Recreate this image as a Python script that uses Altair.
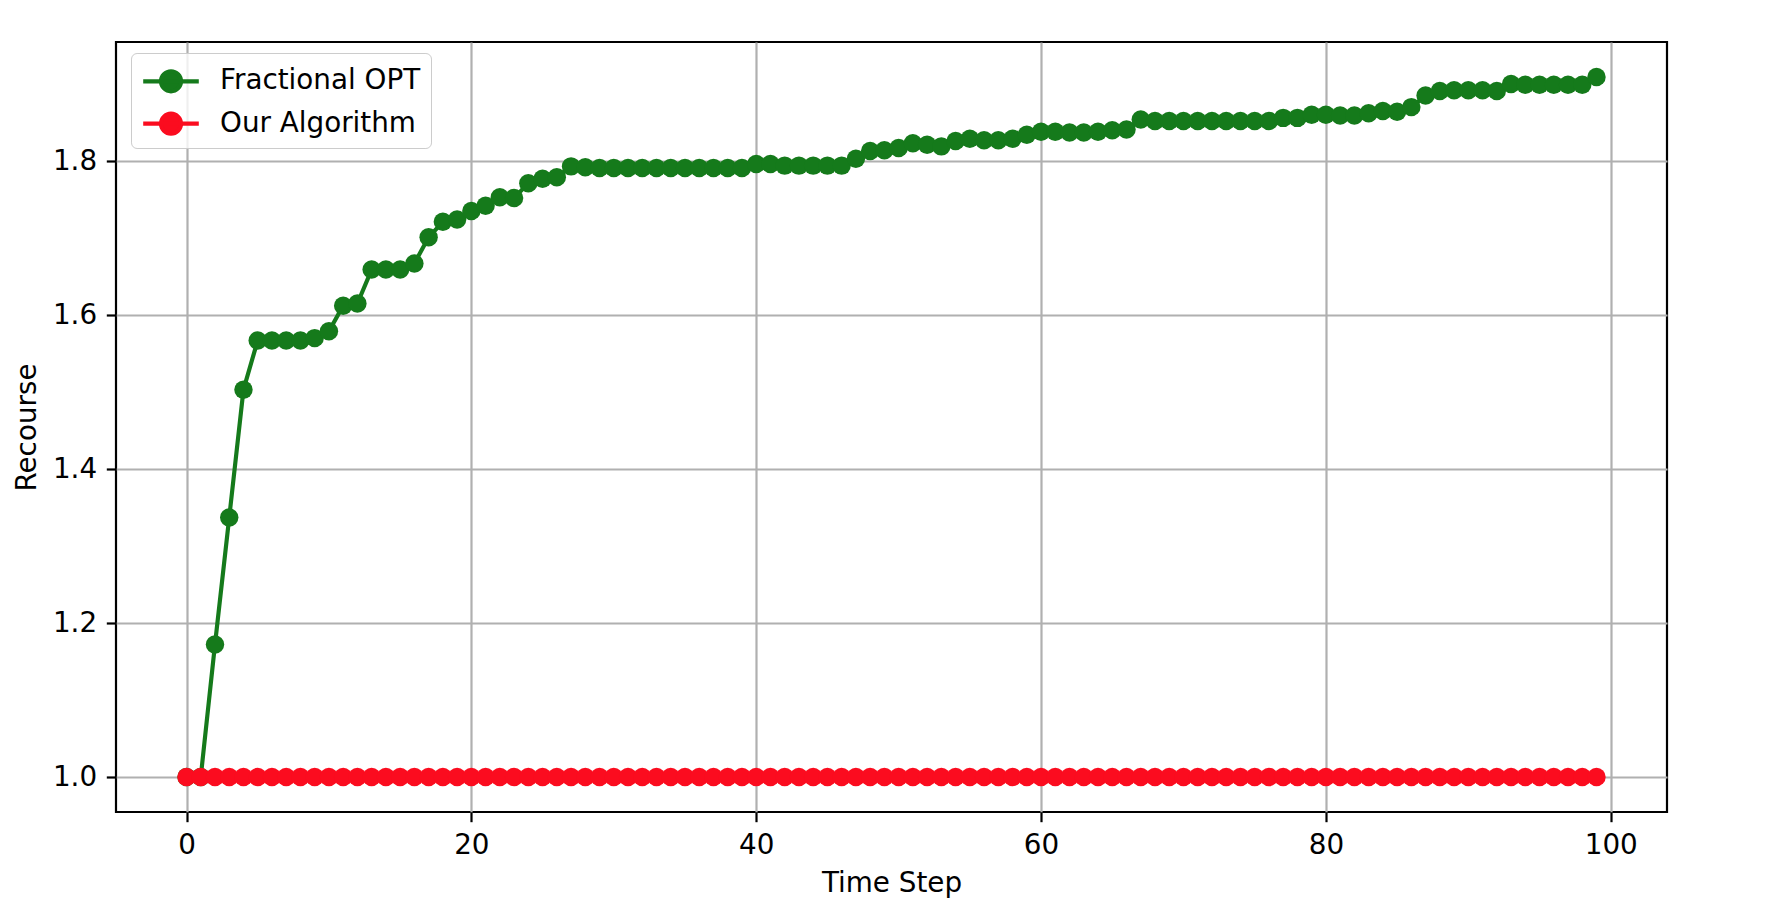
import altair as alt
import pandas as pd

steps = list(range(100))

fractional_opt = [
    1.000, 1.000, 1.172, 1.337, 1.503, 1.567, 1.567, 1.567, 1.567, 1.570,
    1.579, 1.612, 1.615, 1.659, 1.659, 1.659, 1.667, 1.701, 1.721, 1.724,
    1.735, 1.742, 1.753, 1.752, 1.771, 1.777, 1.779, 1.793, 1.792, 1.791,
    1.791, 1.791, 1.791, 1.791, 1.791, 1.791, 1.791, 1.791, 1.791, 1.791,
    1.796, 1.796, 1.794, 1.794, 1.794, 1.794, 1.794, 1.803, 1.813, 1.814,
    1.817, 1.823, 1.821, 1.819, 1.826, 1.829, 1.827, 1.827, 1.829, 1.834,
    1.838, 1.838, 1.837, 1.837, 1.838, 1.840, 1.841, 1.854, 1.852, 1.852,
    1.852, 1.852, 1.852, 1.852, 1.852, 1.852, 1.852, 1.856, 1.856, 1.860,
    1.860, 1.859, 1.859, 1.862, 1.865, 1.864, 1.870, 1.885, 1.891, 1.892,
    1.892, 1.892, 1.891, 1.900, 1.899, 1.899, 1.899, 1.899, 1.899, 1.909,
]
our_algorithm = [1.0] * 100

series_names = ["Fractional OPT", "Our Algorithm"]
series_colors = ["#157a1b", "#fb0c1f"]
x_ticks = [0, 20, 40, 60, 80, 100]
y_ticks = [1.0, 1.2, 1.4, 1.6, 1.8]

rows = []
for t, v in zip(steps, fractional_opt):
    rows.append({"t": t, "v": v, "s": series_names[0], "o": 0})
for t, v in zip(steps, our_algorithm):
    rows.append({"t": t, "v": v, "s": series_names[1], "o": 1})
df = pd.DataFrame(rows)

FONT = "DejaVu Sans"
FS = 27.8
LW = 4.17

color_scale = alt.Scale(domain=series_names, range=series_colors)
legend_path = "M-1,0L1,0M0.36,0A0.36,0.36,0,1,1,-0.36,0A0.36,0.36,0,1,1,0.36,0Z"

x_enc = alt.X(
    "t:Q",
    scale=alt.Scale(domain=[-4.95, 103.95], nice=False, zero=False),
    axis=alt.Axis(values=x_ticks, title="Time Step", format="d"),
)
y_enc = alt.Y(
    "v:Q",
    scale=alt.Scale(domain=[0.95455, 1.95455], nice=False, zero=False),
    axis=alt.Axis(values=y_ticks, title="Recourse", format=".1f"),
)

legend = alt.Legend(
    title=" ",
    titleFontSize=4.6,
    titlePadding=0,
    titleColor="rgba(0,0,0,0)",
    orient="none",
    legendX=15,
    legendY=11,
    symbolType=legend_path,
    symbolSize=3091,
    symbolStrokeWidth=LW,
    clipHeight=27.4,
    rowPadding=13.4,
    labelOffset=19,
    labelLimit=0,
    padding=10,
    fillColor="rgba(255,255,255,0.8)",
    strokeColor="#cccccc",
    cornerRadius=5.6,
    labelFont=FONT,
    labelFontSize=FS,
    labelColor="#000000",
)

lines = alt.Chart(df).mark_line(strokeWidth=LW).encode(
    x=x_enc,
    y=y_enc,
    color=alt.Color("s:N", scale=color_scale, legend=legend),
    order="t:Q",
)

points = alt.Chart(df).mark_point(filled=True, size=340, opacity=1, strokeWidth=0).encode(
    x=x_enc,
    y=y_enc,
    color=alt.Color("s:N", scale=color_scale, legend=legend),
    order="o:Q",
)

chart = (
    alt.layer(lines, points)
    .properties(
        width=1551,
        height=770,
        autosize=alt.AutoSizeParams(type="none"),
        padding={"left": 108, "top": 34, "right": 100, "bottom": 92},
    )
    .configure_view(stroke="#000000", strokeWidth=2.2)
    .configure_axis(
        domain=False,
        grid=True,
        gridColor="#b0b0b0",
        gridWidth=2.2,
        tickColor="#000000",
        tickWidth=2.2,
        tickSize=9.7,
        labelPadding=9.7,
        labelFont=FONT,
        labelFontSize=FS,
        labelColor="#000000",
        titleFont=FONT,
        titleFontSize=FS,
        titleFontWeight="normal",
        titleColor="#000000",
    )
    .configure_axisX(titlePadding=10)
    .configure_axisY(titlePadding=10.5)
)

chart.save("out.html", embed_options={"renderer": "svg", "actions": False})
